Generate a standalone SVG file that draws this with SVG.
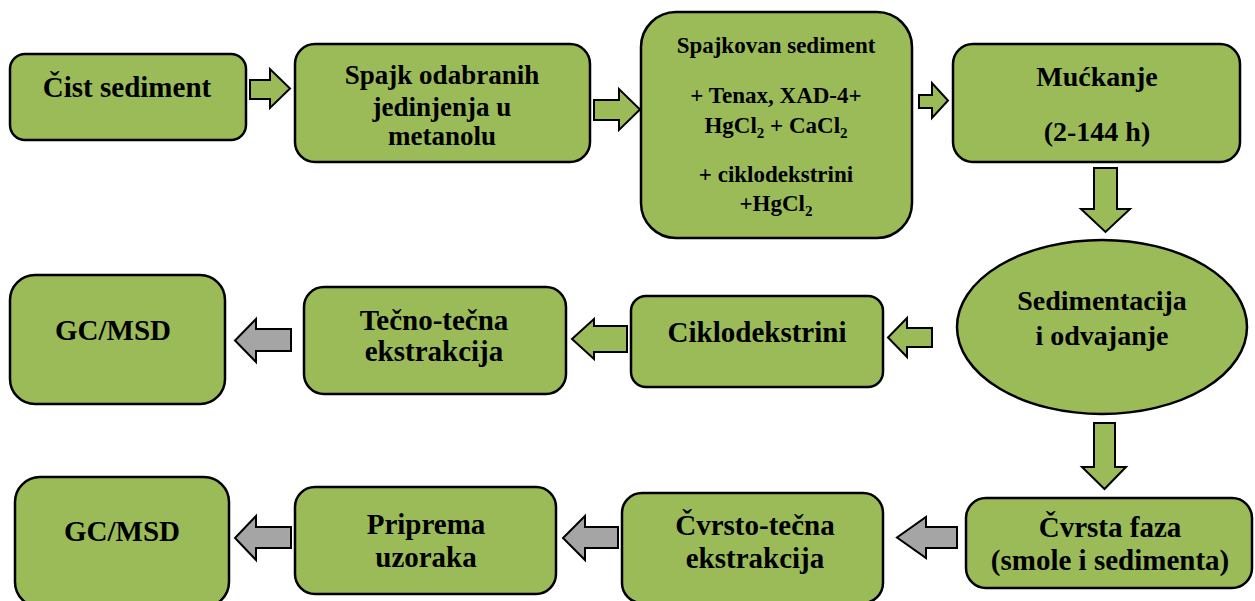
<svg xmlns="http://www.w3.org/2000/svg" width="1255" height="601" viewBox="0 0 1255 601">
<style>
.box{fill:#9BBB59;stroke:#000;stroke-width:2.5}
.ag{fill:#9BBB59;stroke:#000;stroke-width:2}
.ay{fill:#A5A5A5;stroke:#000;stroke-width:2}
text{font-family:"Liberation Serif","Times New Roman",serif;font-weight:bold;fill:#000;text-anchor:middle}
.t29{font-size:29px}
.t28{font-size:28px}
.t27{font-size:27px}
.t22{font-size:23px}
.sub{font-size:15px}
</style>
<rect width="1255" height="601" fill="#fff"/>
<g id="connectors">
<polygon class="ag" points="250,80 270,80 270,69 290,88.5 270,108 270,99 250,99"/>
<polygon class="ag" points="594,100 619,100 619,89 640,109.5 619,130 619,120 594,120"/>
<polygon class="ag" points="919,95 932,95 932,83 948,100.5 932,118 932,108 919,108"/>
<polygon class="ag" points="1094,168 1117,168 1117,209 1130,209 1105.5,232 1081,209 1094,209"/>
<polygon class="ag" points="932,328 907,328 907,318 888,337.5 907,357 907,347 932,347"/>
<polygon class="ag" points="627,326 594,326 594,319 572,339 594,359 594,352 627,352"/>
<polygon class="ay" points="291,329 256,329 256,319 235,340.5 256,362 256,351 291,351"/>
<polygon class="ag" points="1094,423 1115,423 1115,467 1126,467 1104.5,489 1082,467 1094,467"/>
<polygon class="ay" points="957,527 926,527 926,517 897,537.5 926,558 926,548 957,548"/>
<polygon class="ay" points="618,527 585,527 585,516 563,538 585,560 585,548 618,548"/>
<polygon class="ay" points="291,527 256,527 256,516 235,538 256,560 256,548 291,548"/>
</g>
<g id="n1">
<rect class="box" x="10" y="54" width="236" height="86" rx="15"/>
<text class="t29" x="127" y="97">Čist sediment</text>
</g>
<g id="n2">
<rect class="box" x="295" y="44" width="295" height="118" rx="20"/>
<text class="t27" x="442" y="84">Spajk odabranih</text>
<text class="t27" x="442" y="116">jedinjenja u</text>
<text class="t27" x="442" y="145">metanolu</text>
</g>
<g id="n3">
<rect class="box" x="641" y="12" width="271" height="226" rx="35"/>
<text class="t22" x="776" y="53">Spajkovan sediment</text>
<text class="t22" x="776" y="103">+ Tenax, XAD-4+</text>
<text class="t22" x="776" y="133">HgCl<tspan class="sub" dy="5">2</tspan><tspan dy="-5"> + CaCl</tspan><tspan class="sub" dy="5">2</tspan></text>
<text class="t22" x="776" y="182">+ ciklodekstrini</text>
<text class="t22" x="776" y="211">+HgCl<tspan class="sub" dy="5">2</tspan></text>
</g>
<g id="n4">
<rect class="box" x="953" y="44" width="287" height="118" rx="20"/>
<text class="t28" x="1097" y="86">Mućkanje</text>
<text class="t28" x="1097" y="141">(2-144 h)</text>
</g>
<g id="n5">
<ellipse class="box" cx="1102" cy="327" rx="145" ry="87"/>
<text class="t28" x="1102" y="310">Sedimentacija</text>
<text class="t28" x="1102" y="345">i odvajanje</text>
</g>
<g id="n6">
<rect class="box" x="631" y="296" width="252" height="91" rx="15"/>
<text class="t29" x="757" y="342">Ciklodekstrini</text>
</g>
<g id="n7">
<rect class="box" x="304" y="287" width="262" height="107" rx="20"/>
<text class="t29" x="434" y="330">Tečno-tečna</text>
<text class="t29" x="434" y="361">ekstrakcija</text>
</g>
<g id="n8">
<rect class="box" x="10" y="275" width="215" height="129" rx="25"/>
<text class="t29" x="113" y="340">GC/MSD</text>
</g>
<g id="n9">
<rect class="box" x="966" y="498" width="286" height="90" rx="20"/>
<text class="t29" x="1110" y="537">Čvrsta faza</text>
<text class="t29" x="1110" y="570">(smole i sedimenta)</text>
</g>
<g id="n10">
<rect class="box" x="622" y="493" width="261" height="110" rx="20"/>
<text class="t29" x="755" y="535">Čvrsto-tečna</text>
<text class="t29" x="755" y="568">ekstrakcija</text>
</g>
<g id="n11">
<rect class="box" x="295" y="487" width="261" height="107" rx="20"/>
<text class="t29" x="426" y="534">Priprema</text>
<text class="t29" x="426" y="567">uzoraka</text>
</g>
<g id="n12">
<rect class="box" x="15" y="477" width="214" height="130" rx="25"/>
<text class="t29" x="122" y="541">GC/MSD</text>
</g>
</svg>
